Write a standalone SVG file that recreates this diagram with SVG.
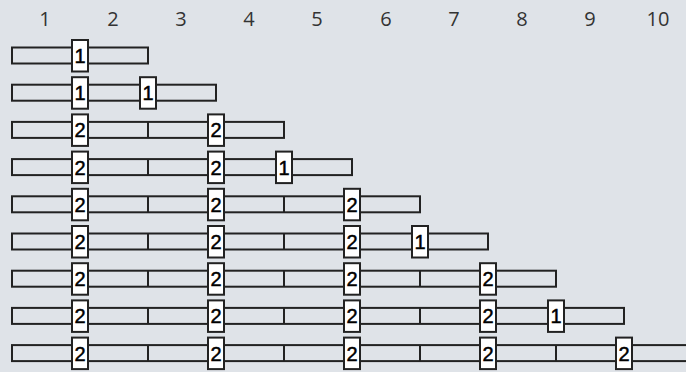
<svg xmlns="http://www.w3.org/2000/svg" width="686" height="372" viewBox="0 0 686 372">
<style>
.bg{fill:#dfe3e8}
.lbl{font-family:"Open Sans","Liberation Sans",sans-serif;font-size:20px;fill:#333;text-anchor:middle}
.bar{fill:#dfe3e8;stroke:#222;stroke-width:2}
.div{stroke:#222;stroke-width:2}
.box{fill:#fff;stroke:#222;stroke-width:2}
.num{font-family:"Liberation Sans",Arial,sans-serif;font-size:20px;fill:#000;stroke:#000;stroke-width:0.5;text-anchor:middle}
</style>
<defs>
<g id="b1"><rect class="box" x="-8" y="-15.5" width="16" height="31.5"/><text class="num" x="0" y="7.5">1</text></g>
<g id="b2"><rect class="box" x="-8" y="-15.5" width="16" height="31.5"/><text class="num" x="0" y="7.5">2</text></g>
</defs>
<rect class="bg" x="0" y="0" width="686" height="372"/>
<g id="labels">
<text class="lbl" x="45" y="26">1</text>
<text class="lbl" x="113" y="26">2</text>
<text class="lbl" x="181" y="26">3</text>
<text class="lbl" x="249" y="26">4</text>
<text class="lbl" x="317" y="26">5</text>
<text class="lbl" x="386" y="26">6</text>
<text class="lbl" x="454" y="26">7</text>
<text class="lbl" x="522" y="26">8</text>
<text class="lbl" x="590" y="26">9</text>
<text class="lbl" x="658" y="26">10</text>
</g>
<g id="connectors"></g>
<g id="row1" transform="translate(0,55.5)">
<rect class="bar" x="12" y="-8" width="136" height="16"/>
<use href="#b1" x="80"/>
</g>
<g id="row2" transform="translate(0,92.7)">
<rect class="bar" x="12" y="-8" width="204" height="16"/>
<use href="#b1" x="80"/><use href="#b1" x="148"/>
</g>
<g id="row3" transform="translate(0,129.9)">
<rect class="bar" x="12" y="-8" width="272" height="16"/>
<line class="div" x1="148" y1="-8" x2="148" y2="8"/>
<use href="#b2" x="80"/><use href="#b2" x="216"/>
</g>
<g id="row4" transform="translate(0,167.1)">
<rect class="bar" x="12" y="-8" width="340" height="16"/>
<line class="div" x1="148" y1="-8" x2="148" y2="8"/>
<use href="#b2" x="80"/><use href="#b2" x="216"/><use href="#b1" x="284"/>
</g>
<g id="row5" transform="translate(0,204.3)">
<rect class="bar" x="12" y="-8" width="408" height="16"/>
<line class="div" x1="148" y1="-8" x2="148" y2="8"/>
<line class="div" x1="284" y1="-8" x2="284" y2="8"/>
<use href="#b2" x="80"/><use href="#b2" x="216"/><use href="#b2" x="352"/>
</g>
<g id="row6" transform="translate(0,241.5)">
<rect class="bar" x="12" y="-8" width="476" height="16"/>
<line class="div" x1="148" y1="-8" x2="148" y2="8"/>
<line class="div" x1="284" y1="-8" x2="284" y2="8"/>
<use href="#b2" x="80"/><use href="#b2" x="216"/><use href="#b2" x="352"/><use href="#b1" x="420"/>
</g>
<g id="row7" transform="translate(0,278.7)">
<rect class="bar" x="12" y="-8" width="544" height="16"/>
<line class="div" x1="148" y1="-8" x2="148" y2="8"/>
<line class="div" x1="284" y1="-8" x2="284" y2="8"/>
<line class="div" x1="420" y1="-8" x2="420" y2="8"/>
<use href="#b2" x="80"/><use href="#b2" x="216"/><use href="#b2" x="352"/><use href="#b2" x="488"/>
</g>
<g id="row8" transform="translate(0,315.9)">
<rect class="bar" x="12" y="-8" width="612" height="16"/>
<line class="div" x1="148" y1="-8" x2="148" y2="8"/>
<line class="div" x1="284" y1="-8" x2="284" y2="8"/>
<line class="div" x1="420" y1="-8" x2="420" y2="8"/>
<use href="#b2" x="80"/><use href="#b2" x="216"/><use href="#b2" x="352"/><use href="#b2" x="488"/><use href="#b1" x="556"/>
</g>
<g id="row9" transform="translate(0,353.1)">
<rect class="bar" x="12" y="-8" width="680" height="16"/>
<line class="div" x1="148" y1="-8" x2="148" y2="8"/>
<line class="div" x1="284" y1="-8" x2="284" y2="8"/>
<line class="div" x1="420" y1="-8" x2="420" y2="8"/>
<line class="div" x1="556" y1="-8" x2="556" y2="8"/>
<use href="#b2" x="80"/><use href="#b2" x="216"/><use href="#b2" x="352"/><use href="#b2" x="488"/><use href="#b2" x="624"/>
</g>
</svg>
